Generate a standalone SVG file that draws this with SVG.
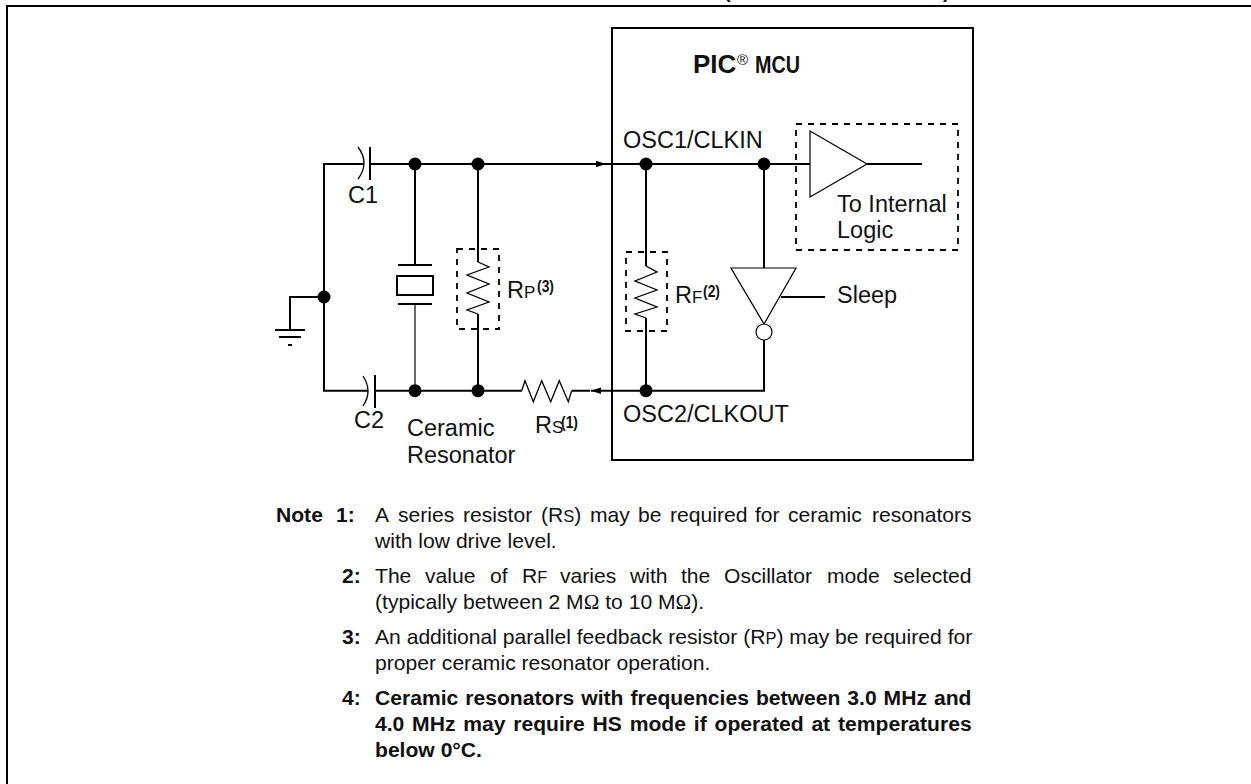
<svg xmlns="http://www.w3.org/2000/svg" width="1251" height="784" viewBox="0 0 1251 784">
<style>
text{font-family:"Liberation Sans",Arial,sans-serif;fill:#111}
.l{font-size:23.5px}
.n{font-size:21.1px}
.sm{font-size:17px}
.b{font-weight:bold}
.w{fill:none;stroke:#000;stroke-width:2}
.z{fill:none;stroke:#000;stroke-width:1.3}
.t{fill:#fff;stroke:#000;stroke-width:1.2}
.d{fill:none;stroke:#000;stroke-width:1.8;stroke-dasharray:6 6}
.sup{font-size:17px;font-weight:bold}
.o{font-family:"Liberation Serif",serif}
</style>
<defs>
<marker id="a" markerWidth="10" markerHeight="8" refX="10" refY="4" orient="auto" markerUnits="userSpaceOnUse"><path d="M0 .8L10 4L0 7.2Z" fill="#000"/></marker>
</defs>
<rect width="1251" height="784" fill="#fff"/>
<path d="M7 784V6H1251" fill="none" stroke="#000" stroke-width="2"/>
<text class="b" x="724" y="-2.5" font-size="20">(</text><text class="b" x="943" y="-2.5" font-size="20">)</text>
<g id="connectors">
<path class="w" d="M364 164H324V390.7H368"/>
<path class="w" d="M370 164H606" marker-end="url(#a)"/>
<path class="w" d="M606 164H810"/>
<path class="w" d="M324 297H290V330"/>
<path class="w" d="M415 164V265"/>
<path d="M415 304V390" fill="none" stroke="#444" stroke-width="1.6"/>
<path class="w" d="M478 164V262M478 314V390"/>
<path class="w" d="M375 390.7H522M571.7 390.7H590"/>
<path class="w" d="M646 390.7H591" marker-end="url(#a)"/>
<path class="w" d="M646 164V266M646 318V390"/>
<path class="w" d="M764 164V268M764 340V390.7H646"/>
<path class="w" d="M867 164H922"/>
<path class="w" d="M781 297H825"/>
</g>
<g id="mcu"><rect class="w" x="612" y="28" width="361" height="432"/>
<text class="b" x="693" y="73" font-size="26">PIC</text><text x="737" y="65" font-size="15">®</text><text class="b" x="755" y="73" font-size="23" textLength="45" lengthAdjust="spacingAndGlyphs">MCU</text></g>
<g id="c1"><path class="w" d="M370 147V180"/><path class="z" d="M358 147Q370 163 358 179"/><text class="l" x="348" y="203">C1</text></g>
<g id="c2"><path class="w" d="M375 375V408"/><path class="z" d="M363 376Q373 391 363 406"/><text class="l" x="354" y="428">C2</text></g>
<g id="ground"><path class="w" d="M275 330H305M279 337H301M288 345H292"/></g>
<g id="resonator"><path class="w" d="M398 265H432M398 304H432"/><rect class="w" x="397" y="276" width="36" height="19"/><text class="l"><tspan x="407" y="436">Ceramic</tspan><tspan x="407" y="463">Resonator</tspan></text></g>
<g id="rp"><rect class="d" x="457" y="249" width="42" height="80"/><path class="z" d="M478 262L489 267L467 275L489 284L467 293L489 302L467 310L478 314"/><text class="l" x="507" y="298">R<tspan class="sm">P</tspan></text><text class="sup" x="537" y="292" textLength="17" lengthAdjust="spacingAndGlyphs">(3)</text></g>
<g id="rf"><rect class="d" x="626" y="252" width="41" height="79"/><path class="z" d="M646 266L657 272L635 281L657 290L635 298L657 307L635 314L646 318"/><text class="l" x="675" y="303">R<tspan class="sm">F</tspan></text><text class="sup" x="703" y="297" textLength="17" lengthAdjust="spacingAndGlyphs">(2)</text></g>
<g id="rs"><path class="z" d="M521.7 390.7L525 380.7L533.3 401.7L541.7 380.7L550.7 401.7L559.3 380.7L568.3 401.7L571.7 390.7"/><text class="l" x="535" y="433">R<tspan class="sm">S</tspan></text><text class="sup" x="561" y="428" textLength="17" lengthAdjust="spacingAndGlyphs">(1)</text></g>
<g id="pins"><text class="l" x="623" y="148">OSC1/CLKIN</text><text class="l" x="623" y="422">OSC2/CLKOUT</text></g>
<g id="logic"><rect class="d" x="796" y="124" width="162" height="126"/><path class="t" d="M810 131V197L867 164Z"/><text class="l"><tspan x="837" y="212">To Internal</tspan><tspan x="837" y="238">Logic</tspan></text></g>
<g id="sleep-inverter"><path class="t" d="M731 268H796L764 324Z"/><circle class="t" cx="764" cy="332" r="8"/><text class="l" x="837" y="303">Sleep</text></g>
<g id="dots" fill="#000"><circle cx="415" cy="164" r="6.5"/><circle cx="478" cy="164" r="6.5"/><circle cx="324" cy="297" r="6.5"/><circle cx="415" cy="390.7" r="6.5"/><circle cx="478" cy="390.7" r="6.5"/><circle cx="646" cy="164" r="6.5"/><circle cx="764" cy="164" r="6.5"/><circle cx="646" cy="390.7" r="6.5"/></g>
<g id="notes">
<text class="n b" y="522"><tspan x="276">Note</tspan> <tspan x="336">1:</tspan></text>
<text class="n" y="522"><tspan x="375">A</tspan> <tspan x="398">series</tspan> <tspan x="463">resistor</tspan> <tspan x="541">(R<tspan font-size="16.5">S</tspan>)</tspan> <tspan x="590">may</tspan> <tspan x="638">be</tspan> <tspan x="670">required</tspan> <tspan x="755">for</tspan> <tspan x="788">ceramic</tspan> <tspan x="872">resonators</tspan></text>
<text class="n" x="375" y="548">with low drive level.</text>
<text class="n b" x="342" y="583">2:</text>
<text class="n" y="583"><tspan x="375">The</tspan> <tspan x="425">value</tspan> <tspan x="490">of</tspan> <tspan x="522">R<tspan font-size="16.5">F</tspan></tspan> <tspan x="560">varies</tspan> <tspan x="630">with</tspan> <tspan x="681">the</tspan> <tspan x="724">Oscillator</tspan> <tspan x="827">mode</tspan> <tspan x="893">selected</tspan></text>
<text class="n" x="375" y="609">(typically between 2 M<tspan class="o">Ω</tspan> to 10 M<tspan class="o">Ω</tspan>).</text>
<text class="n b" x="342" y="644">3:</text>
<text class="n" x="375" y="644">An additional parallel feedback resistor (R<tspan font-size="16.5">P</tspan>) may be required for</text>
<text class="n" x="375" y="670">proper ceramic resonator operation.</text>
<text class="n b" x="342" y="705">4:</text>
<text class="n b" y="705"><tspan x="375">Ceramic</tspan> <tspan x="465.3">resonators</tspan> <tspan x="581.3">with</tspan> <tspan x="630.5">frequencies</tspan> <tspan x="755.9">between</tspan> <tspan x="847.3">3.0</tspan> <tspan x="883.6">MHz</tspan> <tspan x="934">and</tspan></text>
<text class="n b" y="731"><tspan x="375">4.0</tspan> <tspan x="412.1">MHz</tspan> <tspan x="463.3">may</tspan> <tspan x="513.3">require</tspan> <tspan x="592.6">HS</tspan> <tspan x="629.7">mode</tspan> <tspan x="693.8">if</tspan> <tspan x="714.5">operated</tspan> <tspan x="811.4">at</tspan> <tspan x="838">temperatures</tspan></text>
<text class="n b" x="375" y="757">below 0°C.</text>
</g>
</svg>
